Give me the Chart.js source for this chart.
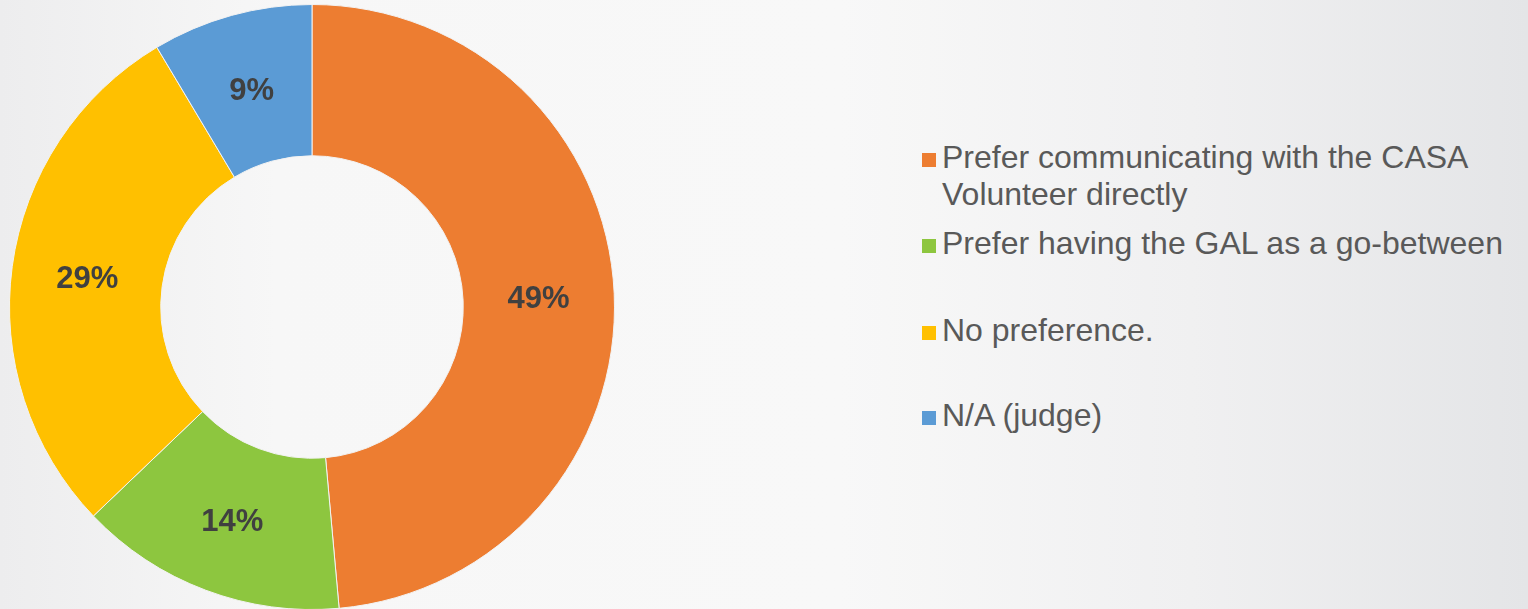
<!DOCTYPE html>
<html>
<head>
<meta charset="utf-8">
<title>CASA communication preference</title>
<script src="https://cdn.jsdelivr.net/npm/chart.js"></script>
<style>
  html, body {
    margin: 0;
    padding: 0;
  }
  body {
    width: 1528px;
    height: 609px;
    overflow: hidden;
    position: relative;
    font-family: "Liberation Sans", Arial, sans-serif;
    background: linear-gradient(to right, #ededee 0%, #f7f7f7 18%, #f8f8f8 55%, #f0f0f1 78%, #e4e5e7 100%);
  }
  .chart-box {
    position: absolute;
    left: 9px;
    top: 4px;
    width: 606px;
    height: 606px;
  }
  .legend {
    position: absolute;
    left: 922px;
    top: 0;
    margin: 0;
    padding: 0;
    list-style: none;
  }
  .legend li {
    position: absolute;
    left: 0;
    white-space: nowrap;
    color: #595959;
    font-size: 32px;
    line-height: 37px;
  }
  .legend .swatch {
    position: absolute;
    left: 0;
    top: 14px;
    width: 14px;
    height: 14px;
  }
  .legend .text {
    display: block;
    padding-left: 20px;
  }
</style>
</head>
<body>
<div class="chart-box"><canvas id="donut"></canvas></div>
<ul class="legend" id="legend"></ul>

<script>
// Chart data
const categories = [
  'Prefer communicating with the CASA Volunteer directly',
  'Prefer having the GAL as a go-between',
  'No preference.',
  'N/A (judge)'
];
// legend lines as they wrap in the original
const legendLines = [
  ['Prefer communicating with the CASA', 'Volunteer directly'],
  ['Prefer having the GAL as a go-between'],
  ['No preference.'],
  ['N/A (judge)']
];
const responses = [17, 5, 10, 3];
const percentLabels = ['49%', '14%', '29%', '9%'];
const sliceColors = ['#ED7D31', '#8DC63F', '#FFC000', '#5B9BD5'];
const legendTops = [139, 225, 312, 397];

// Draw the percentage inside each slice
const sliceLabels = {
  id: 'sliceLabels',
  afterDatasetsDraw(chart) {
    const ctx = chart.ctx;
    const meta = chart.getDatasetMeta(0);
    ctx.save();
    ctx.font = 'bold 31px "Liberation Sans", Arial, sans-serif';
    ctx.fillStyle = '#404040';
    ctx.textAlign = 'center';
    ctx.textBaseline = 'middle';
    meta.data.forEach((arc, i) => {
      const pos = arc.tooltipPosition();
      ctx.fillText(percentLabels[i], pos.x, pos.y + 3);
    });
    ctx.restore();
  }
};

function buildLegend() {
  const list = document.getElementById('legend');
  legendLines.forEach((lines, i) => {
    const li = document.createElement('li');
    li.style.top = legendTops[i] + 'px';
    const swatch = document.createElement('span');
    swatch.className = 'swatch';
    swatch.style.background = sliceColors[i];
    li.appendChild(swatch);
    lines.forEach(line => {
      const span = document.createElement('span');
      span.className = 'text';
      span.textContent = line;
      li.appendChild(span);
    });
    list.appendChild(li);
  });
}

function initDonut() {
  const ctx = document.getElementById('donut').getContext('2d');
  new Chart(ctx, {
    type: 'doughnut',
    data: {
      labels: categories,
      datasets: [{
        data: responses,
        backgroundColor: sliceColors,
        borderColor: '#f2f2f2',
        borderWidth: 1
      }]
    },
    options: {
      responsive: true,
      maintainAspectRatio: false,
      animation: false,
      cutout: '50%',
      layout: { padding: 0 },
      plugins: {
        legend: { display: false },
        tooltip: { enabled: false }
      }
    },
    plugins: [sliceLabels]
  });
}

document.addEventListener('DOMContentLoaded', () => {
  buildLegend();
  initDonut();
});
</script>
</body>
</html>
